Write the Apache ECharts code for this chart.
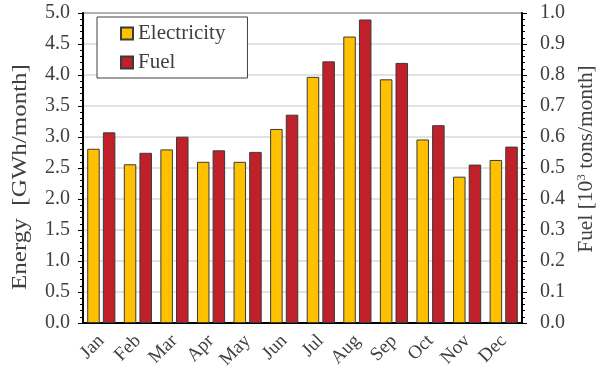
<!DOCTYPE html>
<html>
<head>
<meta charset="utf-8">
<script src="https://cdn.jsdelivr.net/npm/echarts@6/dist/echarts.min.js"></script>
<style>
  html, body { margin: 0; padding: 0; background: #fff; }
  #chart { width: 600px; height: 379px; }
</style>
</head>
<body>
<div id="chart"></div>
<script>
const months = ['Jan', 'Feb', 'Mar', 'Apr', 'May', 'Jun', 'Jul', 'Aug', 'Sep', 'Oct', 'Nov', 'Dec'];
// GWh/month, left axis
const electricity = [2.81, 2.56, 2.80, 2.60, 2.60, 3.13, 3.97, 4.62, 3.93, 2.96, 2.36, 2.63];
// 10^3 tons/month, right axis
const fuel = [0.615, 0.549, 0.601, 0.557, 0.552, 0.672, 0.844, 0.979, 0.839, 0.638, 0.511, 0.569];

const serif = "'Liberation Serif', 'Times New Roman', serif";
const textColor = '#404040';

const chart = echarts.init(document.getElementById('chart'));

const option = {
  animation: false,
  grid: { left: 83, right: 78, top: 13, bottom: 56, show: true, borderColor: '#000', borderWidth: 1.5 },
  // axis titles drawn as graphic text so they can be stretched like the original
  graphic: [
    {
      type: 'text', x: 21, y: 177, rotation: Math.PI / 2, scaleX: 1.25,
      style: {
        text: 'Energy  [GWh/month]', fontFamily: serif, fontSize: 20, fill: textColor,
        align: 'center', verticalAlign: 'middle'
      }
    },
    {
      type: 'text', x: 586, y: 159, rotation: Math.PI / 2, scaleX: 1.02,
      style: {
        text: 'Fuel [10{sup|3} tons/month]', fontFamily: serif, fontSize: 21, fill: textColor,
        align: 'center', verticalAlign: 'middle',
        rich: { sup: { fontFamily: serif, fontSize: 13, fill: textColor, verticalAlign: 'top', lineHeight: 22 } }
      }
    }
  ],
  legend: {
    orient: 'vertical',
    left: 97,
    top: 17,
    padding: [6, 22, 5, 23],
    itemGap: 8,
    itemWidth: 12,
    itemHeight: 12,
    borderColor: '#404040',
    borderWidth: 1,
    backgroundColor: '#fff',
    icon: 'rect',
    textStyle: { fontFamily: serif, fontSize: 21, color: textColor },
    data: ['Electricity', 'Fuel']
  },
  xAxis: {
    type: 'category',
    data: months,
    axisLine: { lineStyle: { color: '#000', width: 2 } },
    axisTick: { show: false },
    axisLabel: { rotate: 45, fontFamily: serif, fontSize: 19, color: textColor, margin: 15 }
  },
  yAxis: [
    {
      type: 'value',
      min: 0, max: 5, interval: 0.5,
      axisLine: { show: true, lineStyle: { color: '#000', width: 2 } },
      axisTick: { show: true, length: 5, lineStyle: { color: '#000' } },
      minorTick: { show: true, splitNumber: 5, length: 3, lineStyle: { color: '#000' } },
      splitLine: { lineStyle: { color: '#d9d9d9', width: 1.5 } },
      axisLabel: {
        fontFamily: serif, fontSize: 20, color: textColor, margin: 13,
        formatter: v => v.toFixed(1)
      }
    },
    {
      type: 'value',
      min: 0, max: 1, interval: 0.1,
      axisLine: { show: true, lineStyle: { color: '#000', width: 2 } },
      axisTick: { show: true, length: 5, lineStyle: { color: '#000' } },
      minorTick: { show: true, splitNumber: 5, length: 3, lineStyle: { color: '#000' } },
      splitLine: { show: false },
      axisLabel: {
        fontFamily: serif, fontSize: 20, color: textColor, margin: 18,
        formatter: v => v.toFixed(1)
      }
    }
  ],
  series: [
    {
      name: 'Electricity',
      type: 'bar',
      yAxisIndex: 0,
      data: electricity,
      barCategoryGap: '23%',
      barGap: '25%',
      itemStyle: { color: '#FFC000', borderColor: '#3a3a3a', borderWidth: 1 }
    },
    {
      name: 'Fuel',
      type: 'bar',
      yAxisIndex: 1,
      data: fuel,
      barCategoryGap: '23%',
      barGap: '25%',
      itemStyle: { color: '#C0202A', borderColor: '#3a3a3a', borderWidth: 1 }
    }
  ]
};

chart.setOption(option);
window.addEventListener('resize', chart.resize);
</script>
</body>
</html>
